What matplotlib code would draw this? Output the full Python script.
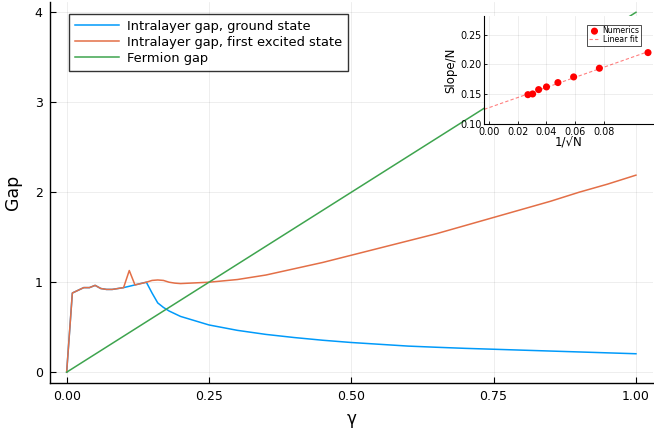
import numpy as np
import matplotlib
matplotlib.use("Agg")
import matplotlib.pyplot as plt

plt.rcParams['font.family'] = ['DejaVu Sans']

# ---- main data ----
gamma = [0.00, 0.01, 0.02, 0.03, 0.04, 0.05, 0.06, 0.07, 0.08, 0.09, 0.10,
         0.11, 0.12, 0.13, 0.14, 0.15, 0.16, 0.17, 0.18, 0.19, 0.20,
         0.25, 0.30, 0.35, 0.40, 0.45, 0.50, 0.55, 0.60, 0.65, 0.70,
         0.75, 0.80, 0.85, 0.90, 0.95, 1.00]
gap_ground = [0.00, 0.88, 0.91, 0.94, 0.94, 0.965, 0.93, 0.92, 0.92, 0.93, 0.94,
              0.955, 0.97, 0.985, 1.00, 0.88, 0.77, 0.72, 0.68, 0.65, 0.62,
              0.525, 0.465, 0.42, 0.385, 0.355, 0.33, 0.31, 0.29, 0.277, 0.265,
              0.255, 0.245, 0.235, 0.225, 0.215, 0.205]
gap_excited = [0.00, 0.88, 0.91, 0.94, 0.94, 0.965, 0.93, 0.92, 0.92, 0.93, 0.94,
               1.13, 0.97, 0.985, 1.00, 1.02, 1.025, 1.02, 1.00, 0.99, 0.985,
               1.00, 1.03, 1.08, 1.15, 1.22, 1.30, 1.38, 1.46, 1.54, 1.63,
               1.72, 1.81, 1.90, 2.00, 2.09, 2.19]
gap_fermion = [0.00, 0.04, 0.08, 0.12, 0.16, 0.20, 0.24, 0.28, 0.32, 0.36, 0.40,
               0.44, 0.48, 0.52, 0.56, 0.60, 0.64, 0.68, 0.72, 0.76, 0.80,
               1.00, 1.20, 1.40, 1.60, 1.80, 2.00, 2.20, 2.40, 2.60, 2.80,
               3.00, 3.20, 3.40, 3.60, 3.80, 4.00]

# ---- inset data ----
inv_sqrt_N = [0.111, 0.077, 0.059, 0.048, 0.040, 0.0345, 0.0303, 0.027]
slope_per_N = [0.220, 0.1937, 0.1791, 0.1696, 0.1623, 0.1578, 0.1505, 0.1493]

C_BLUE = '#009AFA'
C_ORANGE = '#E36F47'
C_GREEN = '#3EA44E'
GRID = dict(color='#000000', alpha=0.08, linewidth=0.6)

fig = plt.figure(figsize=(6.54, 4.33), dpi=100)
ax = fig.add_axes([0.0758, 0.1155, 0.9227, 0.881])

ax.plot(gamma, gap_ground, color=C_BLUE, lw=1.1, label='Intralayer gap, ground state')
ax.plot(gamma, gap_excited, color=C_ORANGE, lw=1.1, label='Intralayer gap, first excited state')
ax.plot(gamma, gap_fermion, color=C_GREEN, lw=1.1, label='Fermion gap')

ax.set_xlim(-0.03, 1.03)
ax.set_ylim(-0.12, 4.12)
ax.set_xticks([0, 0.25, 0.5, 0.75, 1.0])
ax.set_xticklabels(['0.00', '0.25', '0.50', '0.75', '1.00'])
ax.set_yticks([0, 1, 2, 3, 4])
ax.grid(True, **GRID)
for s in ['top', 'right']:
    ax.spines[s].set_visible(False)
for s in ['left', 'bottom']:
    ax.spines[s].set_linewidth(1.0)
ax.tick_params(direction='in', length=4, width=0.8, labelsize=9, pad=5)
ax.set_xlabel('γ', fontsize=12, labelpad=5)
ax.set_ylabel('Gap', fontsize=12.5, labelpad=9)

leg = ax.legend(loc='upper left', bbox_to_anchor=(0.032, 0.967), fontsize=9.35,
                frameon=True, fancybox=False, edgecolor='black', handlelength=3.4,
                handletextpad=0.6, labelspacing=0.22, borderpad=0.45, borderaxespad=0.0)
leg.get_frame().set_linewidth(1.0)

# ---- inset ----
W, H = 654, 433
il, ib, ir, it = 484.3, 124, 653, 16
axin = fig.add_axes([il / W, 1 - ib / H, (ir - il) / W, (ib - it) / H])
axin.set_facecolor('white')
xlo, xhi = -0.0035, 0.1145
coef = np.polyfit(inv_sqrt_N, slope_per_N, 1)
xf = np.linspace(xlo, max(inv_sqrt_N), 50)
axin.plot(xf, np.polyval(coef, xf), color='red', alpha=0.5, lw=0.8, ls=(0, (3, 2)),
          label='Linear fit', zorder=2)
axin.scatter(inv_sqrt_N, slope_per_N, color='red', s=26, zorder=3, label='Numerics',
             edgecolors='none')
axin.set_xlim(xlo, xhi)
axin.set_ylim(0.10, 0.2815)
axin.set_xticks([0, 0.02, 0.04, 0.06, 0.08])
axin.set_xticklabels(['0.00', '0.02', '0.04', '0.06', '0.08'])
axin.set_yticks([0.10, 0.15, 0.20, 0.25])
axin.set_yticklabels(['0.10', '0.15', '0.20', '0.25'])
axin.grid(True, **GRID)
for s in ['top', 'right']:
    axin.spines[s].set_visible(False)
for s in ['left', 'bottom']:
    axin.spines[s].set_linewidth(0.8)
axin.tick_params(direction='in', length=2.5, width=0.6, labelsize=6.9, pad=2)
axin.set_xlabel('1/√N', fontsize=8.5, labelpad=0)
axin.set_ylabel('Slope/N', fontsize=8.5, labelpad=2)
h, l = axin.get_legend_handles_labels()
lin = axin.legend([h[1], h[0]], [l[1], l[0]], loc='upper right', fontsize=5.6,
                  frameon=True, fancybox=False, edgecolor='black', handlelength=1.5,
                  handletextpad=0.3, labelspacing=0.0, borderpad=0.2,
                  bbox_to_anchor=(0.93, 0.92), borderaxespad=0.0, markerscale=1.0)
lin.get_frame().set_linewidth(0.6)

fig.savefig('out.png', dpi=100)
